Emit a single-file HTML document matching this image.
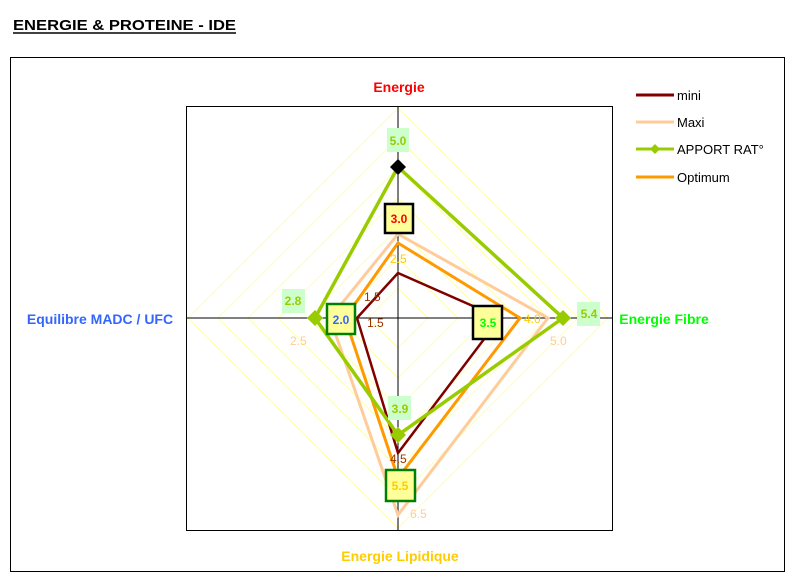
<!DOCTYPE html>
<html><head><meta charset="utf-8"><style>
body{margin:0;background:#fff;width:802px;height:584px;overflow:hidden}
svg{display:block;font-family:"Liberation Sans",Arial,sans-serif}
</style></head><body>
<svg width="802" height="584" viewBox="0 0 802 584">
<text x="13" y="30" font-size="15" font-weight="bold" fill="#000" textLength="223" lengthAdjust="spacingAndGlyphs">ENERGIE &amp; PROTEINE - IDE</text>
<line x1="13" y1="33" x2="236" y2="33" stroke="#000" stroke-width="1.5"/>
<rect x="10.5" y="57.5" width="774" height="514" fill="#fff" stroke="#000"/>
<rect x="186.5" y="106.5" width="426" height="424" fill="#fff" stroke="#000"/>
<g fill="none" stroke="#ffffb0" stroke-width="1">
<polygon points="398,288 428,318 398,348 368,318"/>
<polygon points="398,258 458,318 398,378 338,318"/>
<polygon points="398,228 488,318 398,408 308,318"/>
<polygon points="398,198 518,318 398,438 278,318"/>
<polygon points="398,168 548,318 398,468 248,318"/>
<polygon points="398,138 578,318 398,498 218,318"/>
<polygon points="398,108 608,318 398,528 188,318"/>
</g>
<line x1="398" y1="106" x2="398" y2="530" stroke="#000"/>
<line x1="186" y1="318" x2="612" y2="318" stroke="#000"/>
<g fill="none" stroke-width="3" stroke-linejoin="miter">
<polygon points="398,234 548,318 398,515 330,318" stroke="#ffcc99"/>
<polygon points="398,243 520,318 398,478 345,318" stroke="#ff9900"/>
<polygon points="398,273 500,318 398,453 357,318" stroke="#800000" stroke-width="2.5"/>
<polygon points="398,167 563,318 398,435 315,318" stroke="#99cc00" stroke-width="3.5"/>
</g>
<polygon points="398,159 406,167 398,175 390,167" fill="#000"/>
<polygon points="563,310 571,318 563,326 555,318" fill="#99cc00"/>
<polygon points="398,427 406,435 398,443 390,435" fill="#99cc00"/>
<polygon points="315,310 323,318 315,326 307,318" fill="#99cc00"/>
<g font-size="12">
<text x="364" y="301" fill="#993300">1.5</text>
<text x="367" y="327" fill="#993300">1.5</text>
<text x="390" y="463" fill="#993300">4.5</text>
<text x="390" y="263" fill="#ffcc00">2.5</text>
<text x="524" y="323" fill="#ffcc00">4.0</text>
<text x="290" y="345" fill="#ffcc99">2.5</text>
<text x="550" y="345" fill="#ffcc99">5.0</text>
<text x="410" y="518" fill="#ffcc99">6.5</text>
</g>
<g font-size="12" font-weight="bold" text-anchor="middle">
<rect x="387" y="128" width="22" height="24" fill="#ccffcc"/><text x="398" y="145" fill="#99cc00">5.0</text>
<rect x="282" y="289" width="23" height="24" fill="#ccffcc"/><text x="293" y="305" fill="#99cc00">2.8</text>
<rect x="577" y="302" width="23" height="24" fill="#ccffcc"/><text x="589" y="318" fill="#99cc00">5.4</text>
<rect x="388" y="396" width="23" height="24" fill="#ccffcc"/><text x="400" y="413" fill="#99cc00">3.9</text>
<rect x="385" y="204" width="28" height="29" fill="#ffff99" stroke="#000" stroke-width="2.5"/><text x="399" y="223" fill="#ff0000">3.0</text>
<rect x="327" y="304" width="28" height="30" fill="#ffff99" stroke="#008000" stroke-width="2.5"/><text x="341" y="324" fill="#3366ff">2.0</text>
<rect x="473" y="306" width="29" height="33" fill="#ffff99" stroke="#000" stroke-width="2.5"/><text x="488" y="327" fill="#00ff00">3.5</text>
<rect x="386" y="470" width="29" height="31" fill="#ffff99" stroke="#008000" stroke-width="2.5"/><text x="400" y="490" fill="#ffcc00">5.5</text>
</g>
<g font-size="14" font-weight="bold">
<text x="399" y="92" fill="#ff0000" text-anchor="middle">Energie</text>
<text x="100" y="324" fill="#3366ff" text-anchor="middle">Equilibre MADC / UFC</text>
<text x="664" y="324" fill="#00ff00" text-anchor="middle">Energie Fibre</text>
<text x="400" y="561" fill="#ffcc00" text-anchor="middle">Energie Lipidique</text>
</g>
<g font-size="13" fill="#000">
<line x1="636" y1="95" x2="674" y2="95" stroke="#800000" stroke-width="3"/><text x="677" y="100">mini</text>
<line x1="636" y1="122" x2="674" y2="122" stroke="#ffcc99" stroke-width="3"/><text x="677" y="127">Maxi</text>
<line x1="636" y1="149" x2="674" y2="149" stroke="#99cc00" stroke-width="3"/><polygon points="655,144 660,149 655,154 650,149" fill="#99cc00"/><text x="677" y="154">APPORT RAT°</text>
<line x1="636" y1="177" x2="674" y2="177" stroke="#ff9900" stroke-width="3"/><text x="677" y="182">Optimum</text>
</g>
</svg>
</body></html>
